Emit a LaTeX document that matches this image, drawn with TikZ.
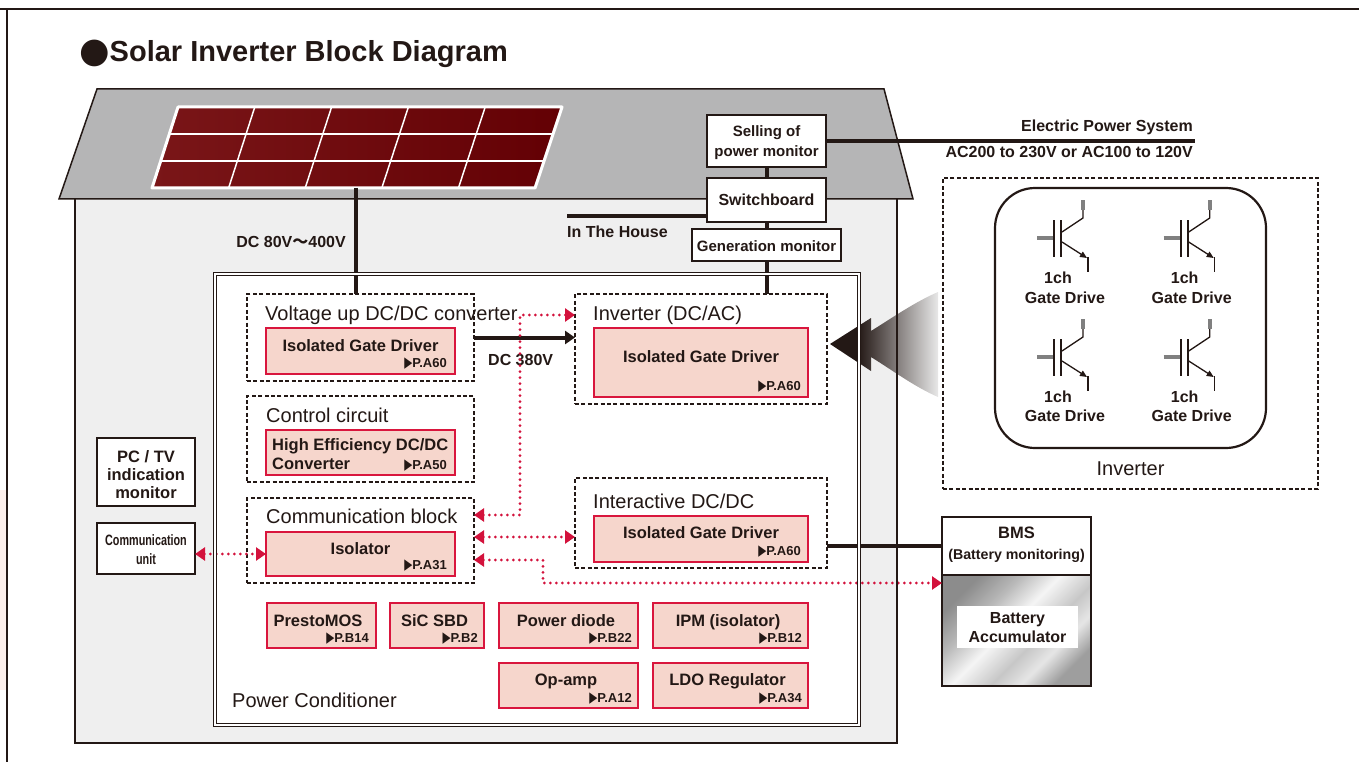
\documentclass[tikz,border=0pt]{standalone}
\usepackage{fontspec}
\usepackage{graphicx}
\setmainfont{Liberation Sans}
\newfontfamily\symfont{DejaVu Sans}
\newfontfamily\cjkfont{Noto Sans CJK JP}
\usetikzlibrary{arrows.meta,calc}

\definecolor{roofgray}{HTML}{B5B5B6}
\definecolor{wallgray}{HTML}{EFEFEF}
\definecolor{partfill}{HTML}{F6D6CC}
\definecolor{partred}{HTML}{D9163D}
\definecolor{sigred}{HTML}{D3123C}
\definecolor{inkblack}{HTML}{231815}
\definecolor{cellleft}{HTML}{7A1618}
\definecolor{cellright}{HTML}{630004}
\definecolor{leadgray}{HTML}{808080}
\definecolor{stripfill}{HTML}{FBEEEA}

\newcommand\fs[1]{\fontsize{#1}{#1}\selectfont}
\newcommand\pref[1]{{\symfont\fs{15}\scalebox{0.7}[1]{▶}}#1}

% soft black-to-grey fade for the zoom arrow
\pgfdeclarehorizontalshading{fadearrow}{100bp}{color(0bp)=(inkblack); color(38bp)=(inkblack); color(75bp)=(black!9); color(100bp)=(black!9)}
% brushed metal look for the battery
\pgfdeclarehorizontalshading{metal}{100bp}{color(0bp)=(black!45); color(25bp)=(black!45); color(36bp)=(black!28); color(47bp)=(black!4); color(58bp)=(black!22); color(66bp)=(black!10); color(75bp)=(black!38); color(100bp)=(black!38)}

\tikzset{
  wire/.style={line width=4pt, draw=inkblack},
  blackbox/.style={draw=inkblack, line width=1.6pt, fill=white, inner sep=0, outer sep=0},
  dashbox/.style={draw=inkblack, line width=1.4pt, dash pattern=on 4pt off 2.4pt, inner sep=0, outer sep=0},
  partbox/.style={draw=partred, fill=partfill, line width=1.8pt, inner sep=0, outer sep=0},
  sig/.style={draw=sigred, line width=3.2pt, dash pattern=on 0pt off 6pt, line cap=round,
    arrows={Triangle[length=10pt,width=13pt]-Triangle[length=10pt,width=13pt]}},
  lbl/.style={inner sep=0, anchor=base, text=inkblack, font=\bfseries\fs{16.5}},
  reflbl/.style={inner sep=0, anchor=base east, text=inkblack, font=\bfseries\fs{13}},
  head/.style={inner sep=0, anchor=base west, text=inkblack, font=\fs{20}},
  igbt/.pic={
    \draw[leadgray, line width=4pt] (-25,0) -- (-9,0);
    \draw[inkblack, line width=2pt] (-8,-18) -- (-8,19);
    \draw[inkblack, line width=2pt] (-1,-18) -- (-1,19);
    \draw[inkblack, line width=1.3pt] (0,-6) -- (21,-20) -- (21,-28);
    \draw[leadgray, line width=4pt] (21,-28) -- (21,-38);
    \draw[inkblack, line width=1.3pt, -{Triangle[length=7pt,width=6pt]}] (0,4) -- (25,20);
    \draw[inkblack, line width=1.3pt] (26,19) -- (26,34);
  }
}

\begin{document}
\begin{tikzpicture}[x=1pt,y=-1pt]
\useasboundingbox (0,0) rectangle (1359,762);

% page frame
\fill[stripfill] (0,490) rectangle (6,690);
\draw[inkblack, line width=2pt] (0,9) -- (1359,9);
\draw[inkblack, line width=2pt] (7,9) -- (7,762);

% heading
\node[anchor=base west, inner sep=0, text=inkblack, font=\bfseries\fs{29}] (title) at (79,62)
  {{\symfont\fs{35}\raisebox{-1pt}{●}}Solar Inverter Block Diagram};

% house and roof
\fill[wallgray] (75,199) rectangle (897,743);
\filldraw[fill=roofgray, draw=inkblack, line width=1.5pt] (97,89) -- (884,89) -- (913,199) -- (59,199) -- cycle;

% solar array on the roof
\coordinate (pTL) at (178,107);
\coordinate (pTR) at (562,107);
\coordinate (pBR) at (535,188);
\coordinate (pBL) at (152,188);
\shade[left color=cellleft, right color=cellright] (pTL) -- (pTR) -- (pBR) -- (pBL) -- cycle;
\foreach \i in {1,...,4}
  \draw[white, line width=1.5pt] ($(pTL)!\i/5!(pTR)$) -- ($(pBL)!\i/5!(pBR)$);
\foreach \j in {1,2}
  \draw[white, line width=1.5pt] ($(pTL)!\j/3!(pBL)$) -- ($(pTR)!\j/3!(pBR)$);
\draw[white, line width=3pt, line join=round] (pTL) -- (pTR) -- (pBR) -- (pBL) -- cycle;

% power conditioner area (frame drawn later)
\node[fill=white, minimum width=644, minimum height=451, inner sep=0, outer sep=0] (pc) at (537,499.5) {};

% metering chain
\node[blackbox, minimum width=119, minimum height=52] (sell) at (766.5,141) {};
\node[lbl, font=\bfseries\fs{15}] (sellA) at (766.5,137) {Selling of};
\node[lbl, font=\bfseries\fs{15}] (sellB) at (766.5,157) {power monitor};
\node[blackbox, minimum width=119, minimum height=44] (switch) at (766.5,200) {};
\node[lbl, font=\bfseries\fs{16}] (switchT) at (766.5,205) {Switchboard};
\node[blackbox, minimum width=149, minimum height=32] (gen) at (766.5,245) {};
\node[lbl, font=\bfseries\fs{15}] (genT) at (766.5,251) {Generation monitor};

% functional blocks
\node[dashbox, minimum width=227, minimum height=87] (vup) at (360.5,337.5) {};
\node[dashbox, minimum width=227, minimum height=86] (ctrl) at (360.5,439) {};
\node[dashbox, minimum width=227, minimum height=85] (comm) at (360.5,540.5) {};
\node[dashbox, minimum width=252, minimum height=110] (inv) at (701,349) {};
\node[dashbox, minimum width=252, minimum height=90] (inter) at (701,523) {};

\node[head] (vupT) at (265,320) {Voltage up DC/DC converter};
\node[head] (ctrlT) at (266,422) {Control circuit};
\node[head] (commT) at (266,523) {Communication block};
\node[head] (invT) at (593,320) {Inverter (DC/AC)};
\node[head] (interT) at (593,508) {Interactive DC/DC};
\node[head] (pcT) at (232,707) {Power Conditioner};

% device boxes
\node[partbox, minimum width=189, minimum height=46] (vdrv) at (360.5,351) {};
\node[lbl] (vdrvT) at (360.5,351) {Isolated Gate Driver};
\node[reflbl] (vdrvR) at (447,367) {\pref{P.A60}};

\node[partbox, minimum width=189, minimum height=45] (hdrv) at (360.5,452.5) {};
\node[lbl, anchor=base west] (hdrvT) at (272,450) {High Efficiency DC/DC};
\node[lbl, anchor=base west] (hdrvU) at (272,469) {Converter};
\node[reflbl] (hdrvR) at (447,469) {\pref{P.A50}};

\node[partbox, minimum width=189, minimum height=44] (iso) at (360.5,554) {};
\node[lbl] (isoT) at (360.5,554) {Isolator};
\node[reflbl] (isoR) at (447,569) {\pref{P.A31}};

\node[partbox, minimum width=214, minimum height=69] (invdrv) at (701,362.5) {};
\node[lbl] (invdrvT) at (701,362) {Isolated Gate Driver};
\node[reflbl] (invdrvR) at (801,390) {\pref{P.A60}};

\node[partbox, minimum width=214, minimum height=46] (idrv) at (701,539) {};
\node[lbl] (idrvT) at (701,538) {Isolated Gate Driver};
\node[reflbl] (idrvR) at (801,555) {\pref{P.A60}};

\node[partbox, minimum width=109, minimum height=45] (presto) at (321.5,625.5) {};
\node[lbl] (prestoT) at (318,626) {PrestoMOS};
\node[reflbl] (prestoR) at (369,642) {\pref{P.B14}};

\node[partbox, minimum width=94, minimum height=45] (sic) at (437,625.5) {};
\node[lbl] (sicT) at (434.5,626) {SiC SBD};
\node[reflbl] (sicR) at (478,642) {\pref{P.B2}};

\node[partbox, minimum width=139, minimum height=45] (pdiode) at (568.5,625.5) {};
\node[lbl] (pdiodeT) at (566,626) {Power diode};
\node[reflbl] (pdiodeR) at (632,642) {\pref{P.B22}};

\node[partbox, minimum width=155, minimum height=45] (ipm) at (730.5,625.5) {};
\node[lbl] (ipmT) at (728,626) {IPM (isolator)};
\node[reflbl] (ipmR) at (802,642) {\pref{P.B12}};

\node[partbox, minimum width=139, minimum height=45] (opamp) at (568.5,685.5) {};
\node[lbl] (opampT) at (566,685) {Op-amp};
\node[reflbl] (opampR) at (632,702) {\pref{P.A12}};

\node[partbox, minimum width=155, minimum height=45] (ldo) at (730.5,685.5) {};
\node[lbl] (ldoT) at (727.5,685) {LDO Regulator};
\node[reflbl] (ldoR) at (802,702) {\pref{P.A34}};

% display and communication units
\node[blackbox, minimum width=98, minimum height=68] (pctv) at (146,472) {};
\node[lbl] (pctvA) at (146,462) {PC / TV};
\node[lbl] (pctvB) at (146,480) {indication};
\node[lbl] (pctvC) at (146,498) {monitor};
\node[blackbox, minimum width=98, minimum height=51] (cunit) at (146,548.5) {};
\node[lbl, font=\bfseries\fs{15}] (cunitA) at (146,545) {\scalebox{0.72}[1]{Communication}};
\node[lbl, font=\bfseries\fs{15}] (cunitB) at (146,564) {\scalebox{0.72}[1]{unit}};

% battery
\node[blackbox, minimum width=149, minimum height=58] (bms) at (1016.5,546) {};
\node[lbl] (bmsA) at (1016.5,538) {BMS};
\node[lbl, font=\bfseries\fs{14.2}] (bmsB) at (1016.5,559) {(Battery monitoring)};
\node[draw=inkblack, line width=1.6pt, shade, shading=metal, shading angle=-45, minimum width=149, minimum height=111, inner sep=0, outer sep=0] (batt) at (1016.5,630.5) {};
\node[fill=white, minimum width=121, minimum height=42, inner sep=0] (battlbl) at (1017.5,627) {};
\node[lbl, font=\bfseries\fs{16}] (battA) at (1017.5,623) {Battery};
\node[lbl, font=\bfseries\fs{16}] (battB) at (1017.5,642) {Accumulator};

% inverter detail
\node[dashbox, minimum width=375, minimum height=311] (invdet) at (1130.5,333.5) {};
\node[draw=inkblack, line width=2.2pt, rounded corners=40pt, minimum width=271, minimum height=260, inner sep=0] (igbtbox) at (1130.5,318) {};
\pic at (1062,238) {igbt};
\pic at (1188.7,238) {igbt};
\pic at (1062,357) {igbt};
\pic at (1188.7,357) {igbt};
\node[lbl, font=\bfseries\fs{16}] (g1a) at (1058,283) {1ch};
\node[lbl, font=\bfseries\fs{16}] (g1b) at (1065,303) {Gate Drive};
\node[lbl, font=\bfseries\fs{16}] (g2a) at (1184.7,283) {1ch};
\node[lbl, font=\bfseries\fs{16}] (g2b) at (1191.7,303) {Gate Drive};
\node[lbl, font=\bfseries\fs{16}] (g3a) at (1058,402) {1ch};
\node[lbl, font=\bfseries\fs{16}] (g3b) at (1065,421) {Gate Drive};
\node[lbl, font=\bfseries\fs{16}] (g4a) at (1184.7,402) {1ch};
\node[lbl, font=\bfseries\fs{16}] (g4b) at (1191.7,421) {Gate Drive};
\node[inner sep=0, anchor=base, text=inkblack, font=\fs{20}] (invdetT) at (1130.5,475) {Inverter};

% power wiring
\coordinate (grid) at (1195,141);
\coordinate (home) at (567,216);
\coordinate (pv) at (356,188);
\draw[wire] (sell.east) -- (grid);
\draw[wire] (sell.south) -- (switch.north);
\draw[wire] (switch.south) -- (gen.north);
\draw[wire] (home) -- (home -| switch.west);
\draw[wire] (gen.south) -- (gen.south |- inv.north);
\draw[wire] (pv) -- (pv |- vup.north);
\draw[wire, -{Triangle[length=10pt,width=13pt]}] (vup.east) -- (vup.east -| inv.west);
\draw[wire] (bms.west) -- (bms.west -| inter.east);

\node[lbl, font=\bfseries\fs{16}, anchor=base east] (gridA) at (1193,132) {Electric Power System};
\node[lbl, font=\bfseries\fs{16}, anchor=base east] (gridB) at (1193,158) {AC200 to 230V or AC100 to 120V};
\node[lbl, font=\bfseries\fs{16}, anchor=base west] (homeT) at (567,237) {In The House};
\node[lbl, font=\bfseries\fs{16}, anchor=base east] (pvT) at (346,247) {DC 80V{\cjkfont ～}400V};
\node[lbl, font=\bfseries\fs{16}, anchor=base west] (dcT) at (488,365) {DC 380V};

% signal paths
\coordinate (s1) at (520,315);
\coordinate (s2) at (520,515);
\coordinate (s3) at (500,537);
\coordinate (s4) at (543,560);
\coordinate (s5) at (543,583);
\draw[sig] (comm.east |- s2) -- (s2) -- (s1) -- (s1 -| inv.west);
\draw[sig] (s3 -| comm.east) -- (s3 -| inter.west);
\draw[sig] (cunit.east |- iso.west) -- (iso.west);
\draw[sig] (comm.east |- s4) -- (s4) -- (s5) -- (s5 -| batt.west);

% zoom arrow from the inverter detail
\shade[shading=fadearrow] (830,344) -- (871,318) -- (871,331)
  .. controls (895,316) and (915,302) .. (938,292) -- (938,397)
  .. controls (915,387) and (895,372) .. (871,357) -- (871,371) -- cycle;

% frames on top: conditioner double rule and the walls below the roof line
\draw[inkblack, line width=1.3pt, double=white, double distance=2.2pt] (pc.north west) rectangle (pc.south east);
\draw[inkblack, line width=2pt, line join=miter] (75,199) -- (75,743) -- (897,743) -- (897,199);
\end{tikzpicture}
\end{document}
